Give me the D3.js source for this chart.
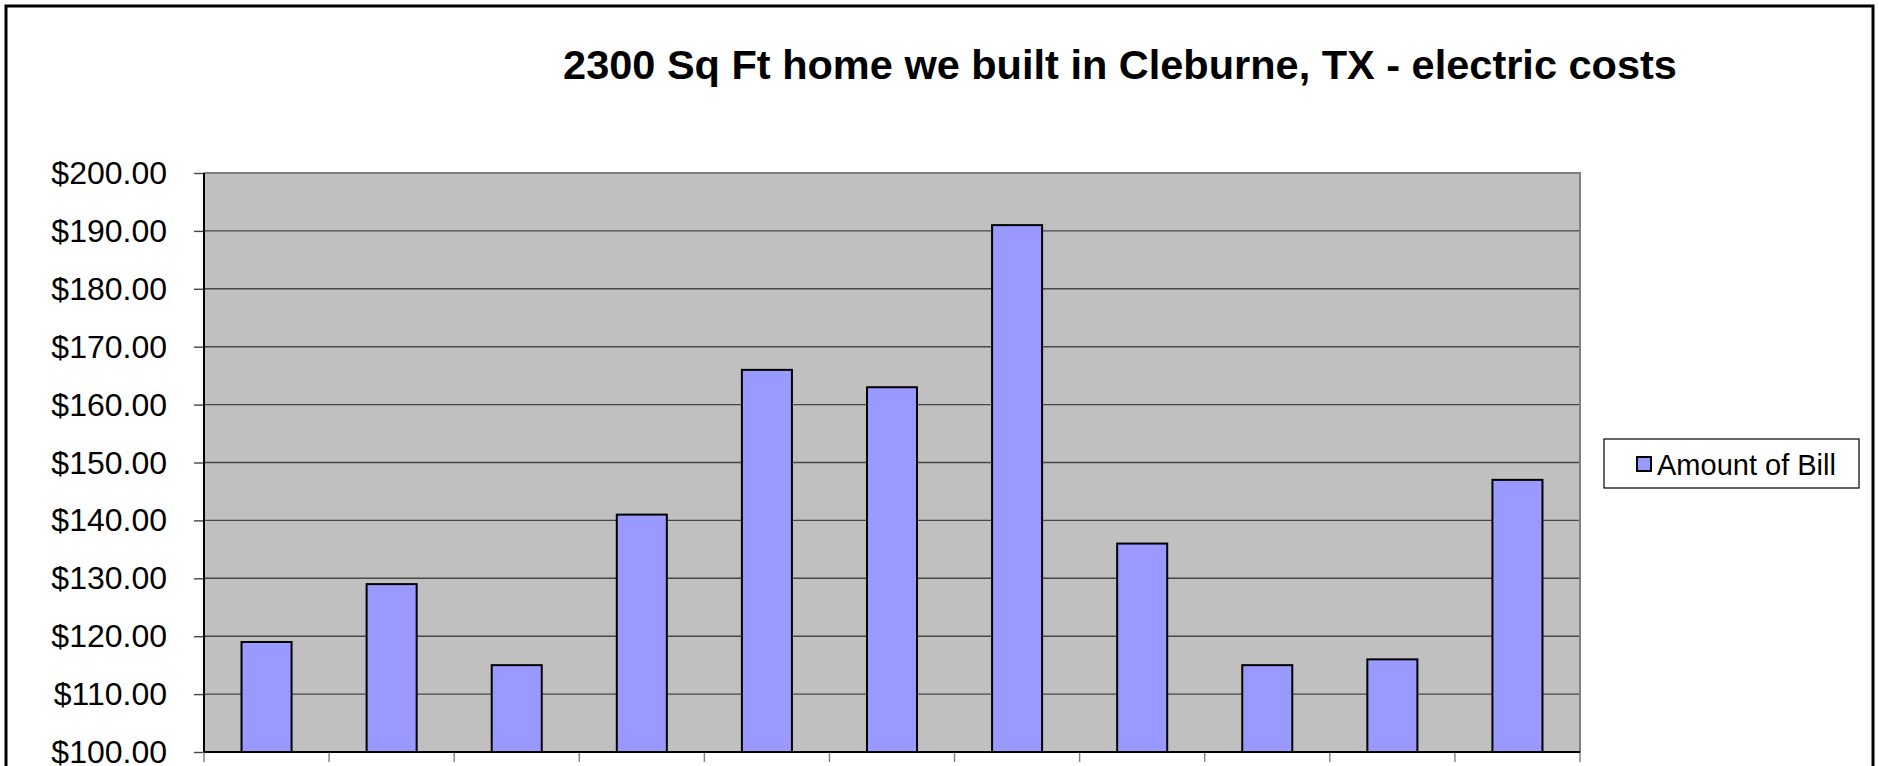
<!DOCTYPE html>
<html>
<head>
<meta charset="utf-8">
<script src="https://cdn.jsdelivr.net/npm/d3@7"></script>
<style>
  html, body { margin: 0; padding: 0; background: #ffffff; }
  svg { display: block; }
</style>
</head>
<body>
<svg id="chart" width="1879" height="766"></svg>
<script>
// ---- data ----
const titleText = "2300 Sq Ft home we built in Cleburne, TX - electric costs";
const seriesName = "Amount of Bill";
const categories = ["1", "2", "3", "4", "5", "6", "7", "8", "9", "10", "11"];
const billAmounts = [119, 129, 115, 141, 166, 163, 191, 136, 115, 116, 147];
const yTickValues = [100, 110, 120, 130, 140, 150, 160, 170, 180, 190, 200];

// ---- layout ----
const W = 1879, H = 766;
const plot = { left: 204, right: 1580, top: 173, bottom: 752 };
const font = "'Liberation Sans', Arial, sans-serif";
const barFill = "#9999FF";

const svg = d3.select("#chart");

// outer chart border
svg.append("rect")
  .attr("x", 6).attr("y", 6)
  .attr("width", 1867).attr("height", 820)
  .attr("fill", "#ffffff")
  .attr("stroke", "#000000")
  .attr("stroke-width", 3);

const x = d3.scaleBand()
  .domain(categories)
  .range([plot.left, plot.right])
  .paddingInner(0.6)
  .paddingOuter(0.3);

const y = d3.scaleLinear()
  .domain([d3.min(yTickValues), d3.max(yTickValues)])
  .range([plot.bottom, plot.top]);

// plot area background
svg.append("rect")
  .attr("x", plot.left).attr("y", plot.top)
  .attr("width", plot.right - plot.left)
  .attr("height", plot.bottom - plot.top)
  .attr("fill", "#C0C0C0");

// gridlines
svg.append("g")
  .selectAll("line")
  .data(yTickValues.filter(v => v !== d3.min(yTickValues) && v !== d3.max(yTickValues)))
  .join("line")
  .attr("x1", plot.left).attr("x2", plot.right)
  .attr("y1", d => y(d)).attr("y2", d => y(d))
  .attr("stroke", "#474747")
  .attr("stroke-width", 1.4);

// plot area top & right border (gray)
svg.append("path")
  .attr("d", `M${plot.left},${y(d3.max(yTickValues))}H${plot.right}V${plot.bottom}`)
  .attr("fill", "none")
  .attr("stroke", "#808080")
  .attr("stroke-width", 2);

// bars
svg.append("g")
  .selectAll("rect")
  .data(categories.map((c, i) => ({ c, v: billAmounts[i] })))
  .join("rect")
  .attr("x", d => x(d.c))
  .attr("y", d => y(d.v))
  .attr("width", x.bandwidth())
  .attr("height", d => y(d3.min(yTickValues)) - y(d.v))
  .attr("fill", barFill)
  .attr("stroke", "#000000")
  .attr("stroke-width", 2);

// y axis
const yAxis = svg.append("g")
  .attr("transform", `translate(${plot.left},0)`)
  .call(d3.axisLeft(y)
    .tickValues(yTickValues)
    .tickSize(10)
    .tickPadding(27)
    .tickFormat(d3.format("$.2f")));
yAxis.select(".domain").remove();
yAxis.selectAll(".tick line").attr("stroke", "#474747").attr("stroke-width", 1.4);
yAxis.selectAll(".tick text")
  .attr("fill", "#000000")
  .style("font-family", font)
  .style("font-size", "32px")
  .attr("dy", "0.33em");
yAxis.append("line")
  .attr("x1", 0).attr("x2", 0)
  .attr("y1", plot.top).attr("y2", plot.bottom)
  .attr("stroke", "#000000")
  .attr("stroke-width", 2);

// x axis ticks at category boundaries
const step = x.step();
const boundaries = d3.range(categories.length + 1).map(i => plot.left + i * step);
svg.append("g")
  .selectAll("line")
  .data(boundaries)
  .join("line")
  .attr("x1", d => d).attr("x2", d => d)
  .attr("y1", plot.bottom).attr("y2", plot.bottom + 10)
  .attr("stroke", "#808080")
  .attr("stroke-width", 1.4);
svg.append("line")
  .attr("x1", plot.left).attr("x2", plot.right)
  .attr("y1", plot.bottom).attr("y2", plot.bottom)
  .attr("stroke", "#000000")
  .attr("stroke-width", 2);

// title
svg.append("text")
  .attr("x", 1120).attr("y", 79)
  .attr("text-anchor", "middle")
  .style("font-family", font)
  .style("font-weight", "bold")
  .style("font-size", "41.5px")
  .attr("fill", "#000000")
  .text(titleText);

// legend
const lg = svg.append("g");
lg.append("rect")
  .attr("x", 1604).attr("y", 439)
  .attr("width", 255).attr("height", 49)
  .attr("fill", "#ffffff")
  .attr("stroke", "#000000")
  .attr("stroke-width", 1.2);
lg.append("rect")
  .attr("x", 1637).attr("y", 457)
  .attr("width", 14).attr("height", 14)
  .attr("fill", barFill)
  .attr("stroke", "#000000")
  .attr("stroke-width", 2);
lg.append("text")
  .attr("x", 1657).attr("y", 475)
  .style("font-family", font)
  .style("font-size", "29px")
  .attr("fill", "#000000")
  .text(seriesName);
</script>
</body>
</html>
